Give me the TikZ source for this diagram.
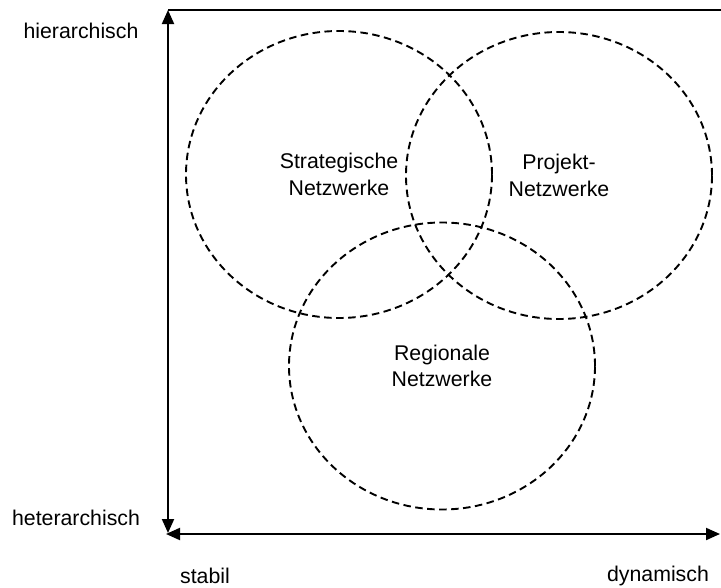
\documentclass[tikz,border=0pt]{standalone}
\usepackage{fontspec}
\setmainfont{Liberation Sans}
\usetikzlibrary{arrows.meta,shapes.geometric}
\newcommand\netfont{\fontsize{21.3}{26.5}\selectfont}
\begin{document}
\begin{tikzpicture}[x=1pt,y=-1pt,
  >={Triangle[length=14pt,width=12pt]},
  axis/.style={line width=2pt},
  net/.style={ellipse, draw, dash pattern=on 7.5pt off 4.5pt, line width=1.9pt,
    minimum width=306pt, minimum height=287pt, inner sep=0pt,
    align=center, font=\netfont},
  lbl/.style={font=\netfont, inner sep=0pt}]
\useasboundingbox (0,0) rectangle (721,587);

% frame corners and axis ends
\coordinate (top) at (168,10);
\coordinate (topright) at (721,10);
\coordinate (bottom) at (168,533);
\coordinate (origin) at (166,534);
\coordinate (right) at (720,534);

% axes
\draw[axis] (top) -- (topright);
\draw[axis, <->] (top) -- (bottom);
\draw[axis, <->] (origin) -- (right);

% overlapping network types
\node[net] (strat) at (339,174.5) {Strategische\\Netzwerke};
\node[net] (proj)  at (559,175.5) {Projekt-\\Netzwerke};
\node[net] (reg)   at (442,366)   {Regionale\\Netzwerke};

% axis labels
\node[lbl] (hier)   at (81,31)   {hierarchisch};
\node[lbl] (heter)  at (76,518)  {heterarchisch};
\node[lbl] (stab)   at (205,576) {stabil};
\node[lbl] (dyn)    at (658,576) {dynamisch};
\end{tikzpicture}
\end{document}
